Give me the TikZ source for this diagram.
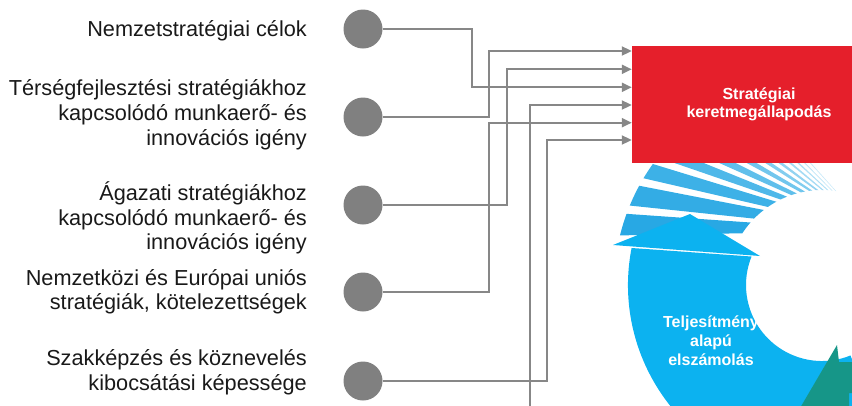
\documentclass[tikz,border=0pt]{standalone}
\usepackage{fontspec}
\setmainfont{Liberation Sans}
\usetikzlibrary{arrows.meta,calc,positioning}
\definecolor{dotgray}{RGB}{128,128,128}
\definecolor{linegray}{RGB}{135,135,135}
\definecolor{boxred}{RGB}{229,31,43}
\definecolor{ringblue}{RGB}{12,178,240}
\definecolor{stripeblue}{RGB}{40,168,228}
\definecolor{nextteal}{RGB}{22,150,136}

\begin{document}
\begin{tikzpicture}[x=1pt,y=-1pt,
    dot/.style={circle,fill=dotgray,minimum size=39pt,inner sep=0pt},
    lbl/.style={anchor=east,align=right,inner sep=0pt,font=\fontsize{21.7}{24.6}\selectfont,text=black!90},
    redbox/.style={fill=boxred,minimum width=254pt,minimum height=117pt,inner sep=0pt,
      text=white,align=center,font=\bfseries\fontsize{16}{18.5}\selectfont},
    ringtext/.style={text=white,align=center,inner sep=0pt,font=\bfseries\fontsize{16}{19}\selectfont},
    conn/.style={draw=linegray,line width=2pt,-{Triangle[length=10pt,width=9pt]}}]
      \clip (0,0) rectangle (852,405);
      % Cycle
      \coordinate (C) at (822,285);
      \coordinate (P) at (872,231);
      % Stripes
      \begin{scope}
        \clip ($(C)+(185:208)$) arc[start angle=185,end angle=300,radius=208]
          -- ($(C)+(300:95)$) arc[start angle=300,end angle=185,radius=95] -- cycle;
        \foreach \a/\b/\s in {179/184/100,186/191/95,193/197/90,199/202/82,204/206.5/74,
            208.5/210.5/66,212.5/214.1/58,216/217.3/50,219.3/220.3/42,222.3/223.1/36,
            225/225.6/30,227.6/228.1/25}
          \fill[stripeblue!\s] (P) -- +(\a:320) -- +(\b:320) -- cycle;
      \end{scope}
      % Blue arrow
      \fill[ringblue] ($(C)+(191:194)$) arc[start angle=191,end angle=68,radius=194]
        -- ($(C)+(68:76)$) arc[start angle=68,end angle=202,radius=76] -- cycle;
      \fill[ringblue] (613,245) -- (690,214) -- (760,256) -- cycle;
      \node[ringtext] (perf) at (711,341) {Teljesítmény\\alapú\\elszámolás};
      % Teal arrow
      \fill[nextteal] (837,345) -- (839,362) -- (860,362) -- (860,393) -- (849,393)
        -- (849,420) -- (793,420) -- cycle;

      % Framework agreement
      \node[redbox] (box) at (759,104.5) {Stratégiai\\keretmegállapodás};

      % Inputs
      \node[dot] (c1) at (363,29) {};
      \node[dot] (c2) at (363,117) {};
      \node[dot] (c3) at (363,205) {};
      \node[dot] (c4) at (363,292) {};
      \node[dot] (c5) at (363,381) {};
      \node[lbl] (l1) at (307,30.3) {Nemzetstratégiai célok};
      \node[lbl] (l2) at (307,114.8) {Térségfejlesztési stratégiákhoz\\kapcsolódó munkaerő- és\\innovációs igény};
      \node[lbl] (l3) at (307,218.2) {Ágazati stratégiákhoz\\kapcsolódó munkaerő- és\\innovációs igény};
      \node[lbl] (l4) at (307,291.8) {Nemzetközi és Európai uniós\\stratégiák, kötelezettségek};
      \node[lbl] (l5) at (307,372.3) {Szakképzés és köznevelés\\kibocsátási képessége};

      % Connect inputs to agreement
      \coordinate (src) at (530,420);
      \draw[conn] (c2.east) -| (489,51) -- (box.west |- 0,51);
      \draw[conn] (c3.east) -| (507,69.3) -- (box.west |- 0,69.3);
      \draw[conn] (c1.east) -| (472,87.3) -- (box.west |- 0,87.3);
      \draw[conn] (src) |- (box.west |- 0,105);
      \draw[conn] (c4.east) -| (489,122.7) -- (box.west |- 0,122.7);
      \draw[conn] (c5.east) -| (547,140) -- (box.west |- 0,140);
\end{tikzpicture}
\end{document}
